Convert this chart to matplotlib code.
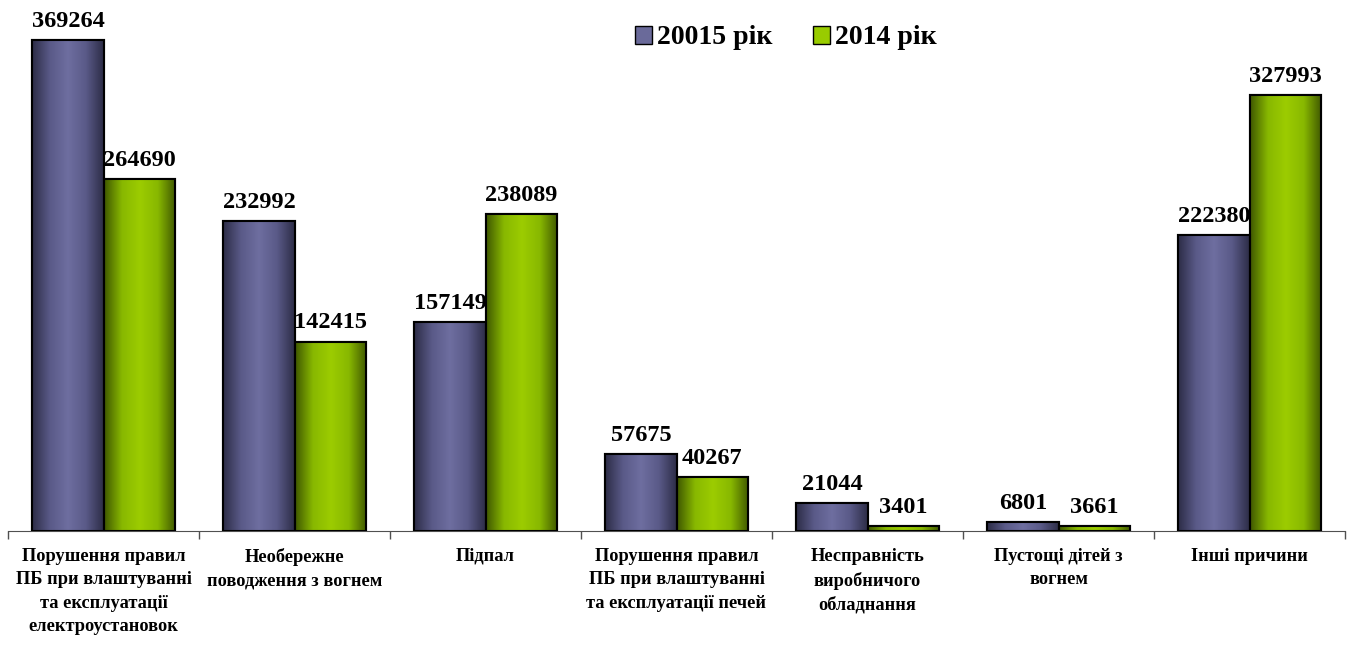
import matplotlib
matplotlib.use("Agg")
import matplotlib.pyplot as plt
import numpy as np
from matplotlib.colors import LinearSegmentedColormap
from matplotlib.patches import Patch

plt.rcParams['font.family'] = ['Liberation Serif', 'DejaVu Serif']
plt.rcParams['font.weight'] = 'bold'

categories = ['Порушення правил\nПБ при влаштуванні\nта експлуатації\nелектроустановок',
              'Необережне\nповодження з вогнем',
              'Підпал',
              'Порушення правил\nПБ при влаштуванні\nта експлуатації печей',
              'Несправність\nвиробничого\nобладнання',
              'Пустощі дітей з\nвогнем',
              'Інші причини']
vals_2015 = [369264, 232992, 157149, 57675, 21044, 6801, 222380]
vals_2014 = [264690, 142415, 238089, 40267, 3401, 3661, 327993]
series_names = ['20015 рік', '2014 рік']

blue_cm = LinearSegmentedColormap.from_list('b', ['#2c2c46', '#5a5a88', '#6e6ea0', '#5a5a88', '#2c2c46'])
green_cm = LinearSegmentedColormap.from_list('g', ['#3f5700', '#88b800', '#9ccc00', '#88b800', '#3f5700'])

fig = plt.figure(figsize=(13.54, 6.48), dpi=100)
ax = fig.add_axes([8 / 1354, 117 / 648, 1337 / 1354, 531 / 648])

x = np.arange(len(categories))
w = 0.372
b1 = ax.bar(x - w / 2, vals_2015, w, color='#6a6a9a', edgecolor='black', linewidth=1.5, zorder=2)
b2 = ax.bar(x + w / 2, vals_2014, w, color='#99cc00', edgecolor='black', linewidth=1.5, zorder=2)

# horizontal shading inside each bar
grad = np.linspace(0, 1, 256).reshape(1, -1)
for bars, cm in ((b1, blue_cm), (b2, green_cm)):
    for p in bars:
        x0, y0 = p.get_x(), p.get_y()
        im = ax.imshow(grad, cmap=cm, aspect='auto', zorder=2.5,
                       extent=(x0, x0 + p.get_width(), y0, y0 + p.get_height()))
        im.set_clip_path(p)
        p2 = plt.Rectangle((x0, y0), p.get_width(), p.get_height(), fill=False,
                           edgecolor='black', linewidth=1.5, zorder=3)
        ax.add_patch(p2)

for bars, vals in ((b1, vals_2015), (b2, vals_2014)):
    for p, v in zip(bars, vals):
        ax.annotate(str(v), (p.get_x() + p.get_width() / 2, v), xytext=(0, 6),
                    textcoords='offset points', ha='center', va='bottom',
                    fontsize=17.5, fontweight='bold')

ax.set_xlim(-0.5, len(categories) - 0.5)
ax.set_ylim(0, 369264 * 531 / 491)
for s in ['top', 'right', 'left']:
    ax.spines[s].set_visible(False)
ax.spines['bottom'].set_color('#505050')
ax.set_yticks([])
ax.set_xticks(x)
ax.set_xticklabels(categories, fontsize=13.2, fontweight='bold', linespacing=1.5, va='top')
ax.tick_params(axis='x', which='major', length=0, pad=12)
ax.set_xticks(np.arange(len(categories) + 1) - 0.5, minor=True)
ax.tick_params(axis='x', which='minor', length=6, color='#505050', width=1)

handles = [Patch(facecolor='#6a6a9a', edgecolor='black'), Patch(facecolor='#99cc00', edgecolor='black')]
fig.legend(handles, series_names, loc='center', bbox_to_anchor=(786 / 1354, 1 - 38 / 648),
           ncol=2, frameon=False, prop={'size': 20, 'weight': 'bold'},
           handlelength=0.6, handleheight=0.6, handletextpad=0.2, columnspacing=1.45)

fig.savefig('out.png', dpi=100)
